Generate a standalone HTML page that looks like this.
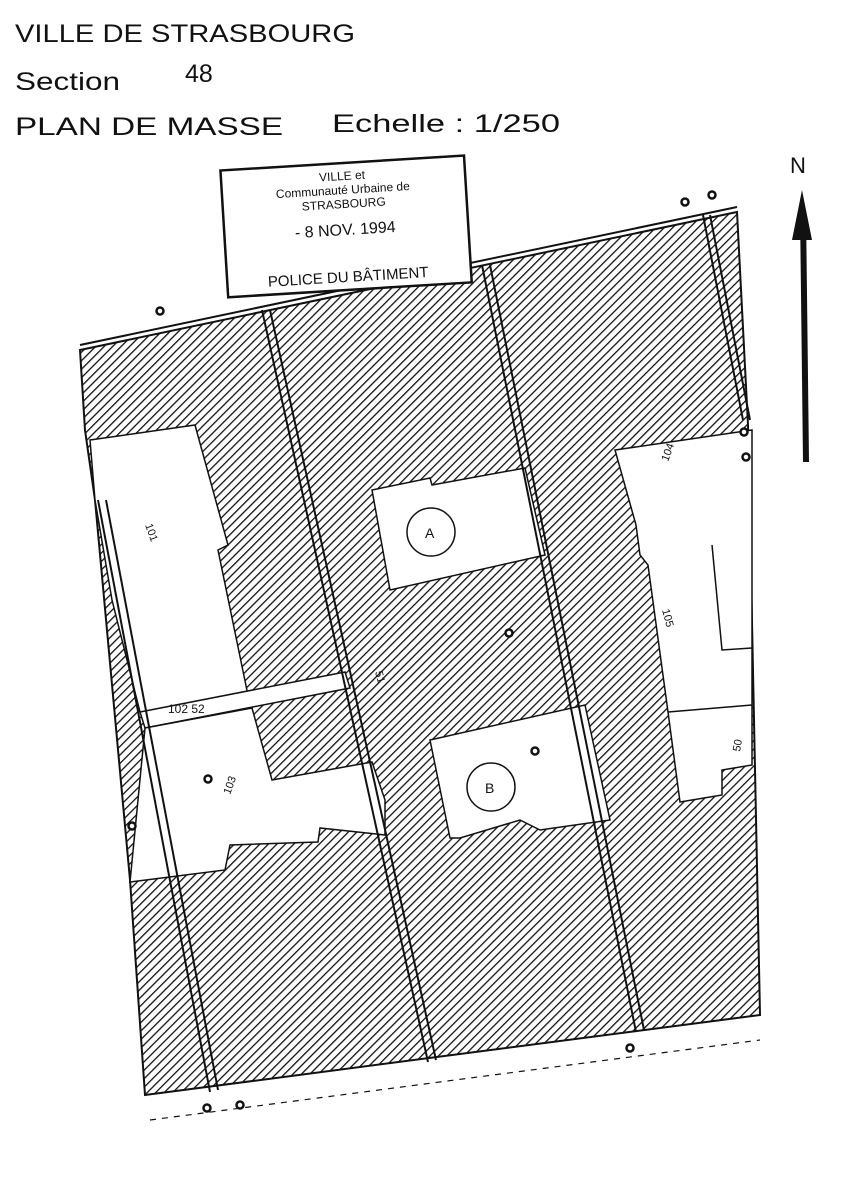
<!DOCTYPE html>
<html><head><meta charset="utf-8"><style>
html,body{margin:0;padding:0;background:#fff}
svg{display:block}
</style></head><body>
<svg width="858" height="1200" viewBox="0 0 858 1200" xmlns="http://www.w3.org/2000/svg" font-family="Liberation Sans, sans-serif">
<defs>
<pattern id="h" patternUnits="userSpaceOnUse" width="6" height="6" patternTransform="rotate(45)">
<rect width="6" height="6" fill="#fff"/>
<line x1="0" y1="0" x2="0" y2="6" stroke="#111" stroke-width="2.6"/>
</pattern>
</defs>
<text x="15" y="42" font-size="25" fill="#111" textLength="340" lengthAdjust="spacingAndGlyphs">VILLE  DE STRASBOURG</text>
<text x="15" y="90" font-size="25" fill="#111" textLength="105" lengthAdjust="spacingAndGlyphs">Section</text>
<text x="185" y="82" font-size="25" fill="#111">48</text>
<text x="15" y="135" font-size="25" fill="#111" textLength="268" lengthAdjust="spacingAndGlyphs">PLAN DE MASSE</text>
<text x="332" y="132" font-size="25" fill="#111" textLength="228" lengthAdjust="spacingAndGlyphs">Echelle : 1/250</text>

<polygon points="80,350 737,212 748,425 760,1015 145,1095 130,880 95,500 85,430" fill="url(#h)" stroke="#111" stroke-width="2"/>
<g fill="#fff" stroke="#111" stroke-width="1.5">
<polygon points="90,440 195,425 228,545 218,550 250,705 140,712 112,600 95,500"/>
<polygon points="140,712 345,672 350,688 145,728"/>
<polygon points="145,728 252,708 272,780 372,762 385,800 385,835 320,828 318,842 230,845 225,870 130,882"/>
<polygon points="372,490 430,478 432,485 525,468 545,555 390,590"/>
<polygon points="430,740 585,705 610,820 540,830 520,820 460,838 450,838"/>
<polygon points="615,450 752,430 752,765 722,770 722,795 680,802 668,712 648,565 640,555 636,525"/>
<polyline points="668,712 752,705" fill="none"/>
<polyline points="712,545 722,650 752,648" fill="none"/>
</g>
<g stroke="#111" stroke-width="2" fill="none">
<line x1="262" y1="310" x2="428" y2="1062"/><line x1="270" y1="310" x2="436" y2="1060"/>
<line x1="482" y1="265" x2="636" y2="1032"/><line x1="490" y1="265" x2="644" y2="1030"/>
<line x1="98" y1="500" x2="210" y2="1092"/><line x1="106" y1="500" x2="218" y2="1090"/>
<line x1="703" y1="215" x2="743" y2="420"/><line x1="710" y1="215" x2="750" y2="420"/>
<line x1="80" y1="345" x2="737" y2="207"/>
<line x1="150" y1="1120" x2="760" y2="1040" stroke-dasharray="6,6" stroke-width="1.2"/>
</g>
<g fill="#fff" stroke="#111" stroke-width="1.5">
<circle cx="431" cy="532" r="24"/><circle cx="491" cy="787" r="24"/>
</g>
<g fill="#fff" stroke="#111" stroke-width="2.5">
<circle cx="160" cy="311" r="3.5"/><circle cx="422" cy="255" r="3.5"/><circle cx="685" cy="202" r="3.5"/><circle cx="712" cy="195" r="3.5"/>
<circle cx="744" cy="432" r="3.5"/><circle cx="746" cy="457" r="3.5"/><circle cx="509" cy="633" r="3.5"/><circle cx="535" cy="751" r="3.5"/>
<circle cx="208" cy="779" r="3.5"/><circle cx="132" cy="826" r="3.5"/><circle cx="630" cy="1048" r="3.5"/><circle cx="207" cy="1108" r="3.5"/><circle cx="240" cy="1105" r="3.5"/>
</g>
<g fill="#111">
<text x="425" y="538" font-size="14">A</text>
<text x="485" y="793" font-size="14">B</text>
<text x="168" y="713" font-size="12">102  52</text>
<text x="145" y="525" font-size="11" transform="rotate(70 145 525)">101</text>
<text x="230" y="795" font-size="11" transform="rotate(-70 230 795)">103</text>
<text x="662" y="610" font-size="11" transform="rotate(75 662 610)">105</text>
<text x="668" y="462" font-size="11" transform="rotate(-70 668 462)">104</text>
<text x="740" y="752" font-size="11" transform="rotate(-80 740 752)">50</text>
<text x="375" y="672" font-size="11" transform="rotate(75 375 672)">51</text>
</g>
<g transform="rotate(-3.5 345 225)" fill="#111">
<rect x="224" y="163" width="244" height="127" fill="#fff" stroke="#111" stroke-width="2.5"/>
<text x="345" y="180" font-size="12" text-anchor="middle">VILLE et</text>
<text x="345" y="194" font-size="12" text-anchor="middle">Communauté Urbaine de</text>
<text x="345" y="208" font-size="12" text-anchor="middle">STRASBOURG</text>
<text x="345" y="235" font-size="16" text-anchor="middle">- 8 NOV. 1994</text>
<text x="345" y="282" font-size="15" text-anchor="middle">POLICE DU BÂTIMENT</text>
</g>
<text x="790" y="173" font-size="22" fill="#111">N</text>
<line x1="803" y1="210" x2="806" y2="462" stroke="#111" stroke-width="6"/>
<polygon points="802,190 792,240 812,240" fill="#111"/>
</svg>
</body></html>
